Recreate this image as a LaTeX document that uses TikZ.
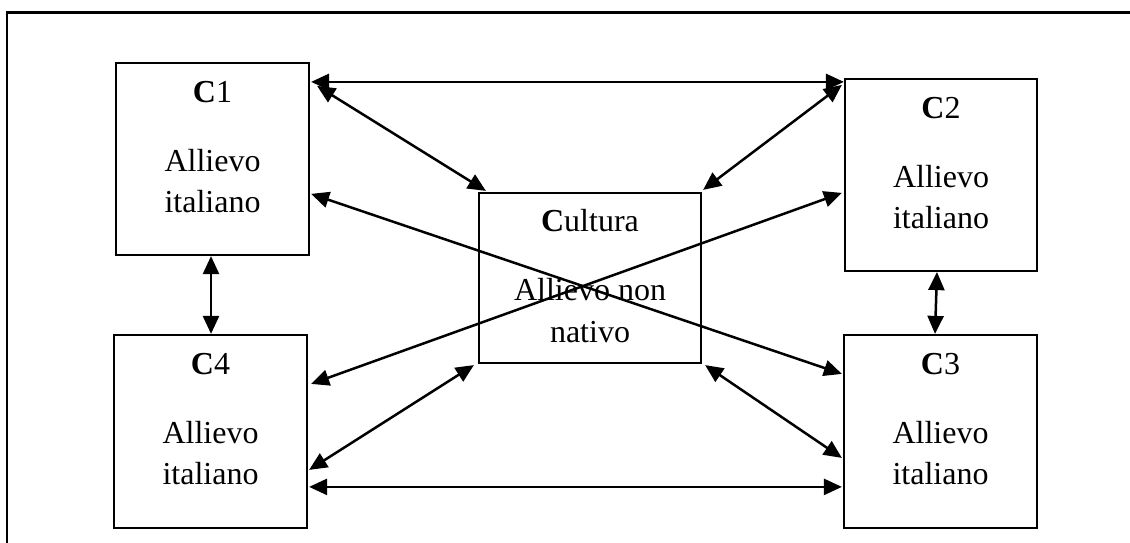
\documentclass[tikz,border=0pt]{standalone}
\usepackage{fontspec}
\setmainfont{Liberation Serif}
\usetikzlibrary{arrows.meta,calc}

\tikzset{
  box/.style={draw, line width=2.2pt, inner sep=0pt, fill=white},
  txt/.style={inner sep=0pt, anchor=base, font=\fontsize{32}{38}\selectfont},
  link/.style={line width=2.5pt,
    {Triangle[length=18pt,width=16pt]}-{Triangle[length=18pt,width=16pt]}},
  frame/.style={line width=2.2pt}
}

\begin{document}
\begin{tikzpicture}[x=1pt,y=-1pt]
  \useasboundingbox (0,0) rectangle (1130,543);

  % outer frame (only its top and left sides fall inside the page)
  \coordinate (fbl) at (7,543);
  \coordinate (ftl) at (7,12.5);
  \coordinate (ftr) at (1130,12.5);
  \draw[frame] (fbl) -- (ftl) -- (ftr);

  % the five boxes
  \node[box, minimum width=193pt, minimum height=192pt] (c1) at (212.5,159) {};
  \node[box, minimum width=192pt, minimum height=192pt] (c2) at (941,175) {};
  \node[box, minimum width=193pt, minimum height=193pt] (c4) at (210.5,431.5) {};
  \node[box, minimum width=193pt, minimum height=193pt] (c3) at (940.5,431.5) {};
  \node[box, minimum width=222pt, minimum height=170pt] (cu) at (590,278) {};

  % box texts
  \foreach \b/\n in {c1/1, c2/2, c3/3, c4/4} {
    \node[txt] (\b t1) at ($(\b.north)+(0,41)$) {\textbf{C}\n};
    \node[txt] (\b t2) at ($(\b.north)+(0,109.5)$) {Allievo};
    \node[txt] (\b t3) at ($(\b.north)+(0,150.5)$) {italiano};
  }
  \node[txt] (cut1) at ($(cu.north)+(0,40)$) {\textbf{C}ultura};
  \node[txt] (cut2) at ($(cu.north)+(0,109)$) {Allievo non};
  \node[txt] (cut3) at ($(cu.north)+(0,151)$) {nativo};

  % connections
  \draw[link] ($(c1.north east)+(1,20)$) -- ($(c2.north west)+(0,4)$);
  \draw[link] ($(c1.north east)+(7,24)$) -- ($(cu.north west)+(8,-1)$);
  \draw[link] ($(c2.north west)+(-2,7)$) -- ($(cu.north east)+(1,-2)$);
  \draw[link] ($(c1.north east)+(1,132)$) -- ($(c3.north west)+(-1,40)$);
  \draw[link] ($(c2.north west)+(-2,115)$) -- ($(c4.north east)+(3,50)$);
  \draw[link] ($(c4.north east)+(1,136)$) -- ($(cu.south west)+(-4,1)$);
  \draw[link] ($(c3.north west)+(-1,124)$) -- ($(cu.south east)+(3,1)$);
  \draw[link] ($(c4.north east)+(1,153)$) -- ($(c3.north west)+(-1,153)$);
  \draw[link] ($(c1.south)+(-1.5,0)$) -- ($(c4.north)+(0.5,0)$);
  \draw[link] ($(c2.south)+(-4,0)$) -- ($(c3.north)+(-5.5,0)$);
\end{tikzpicture}
\end{document}
